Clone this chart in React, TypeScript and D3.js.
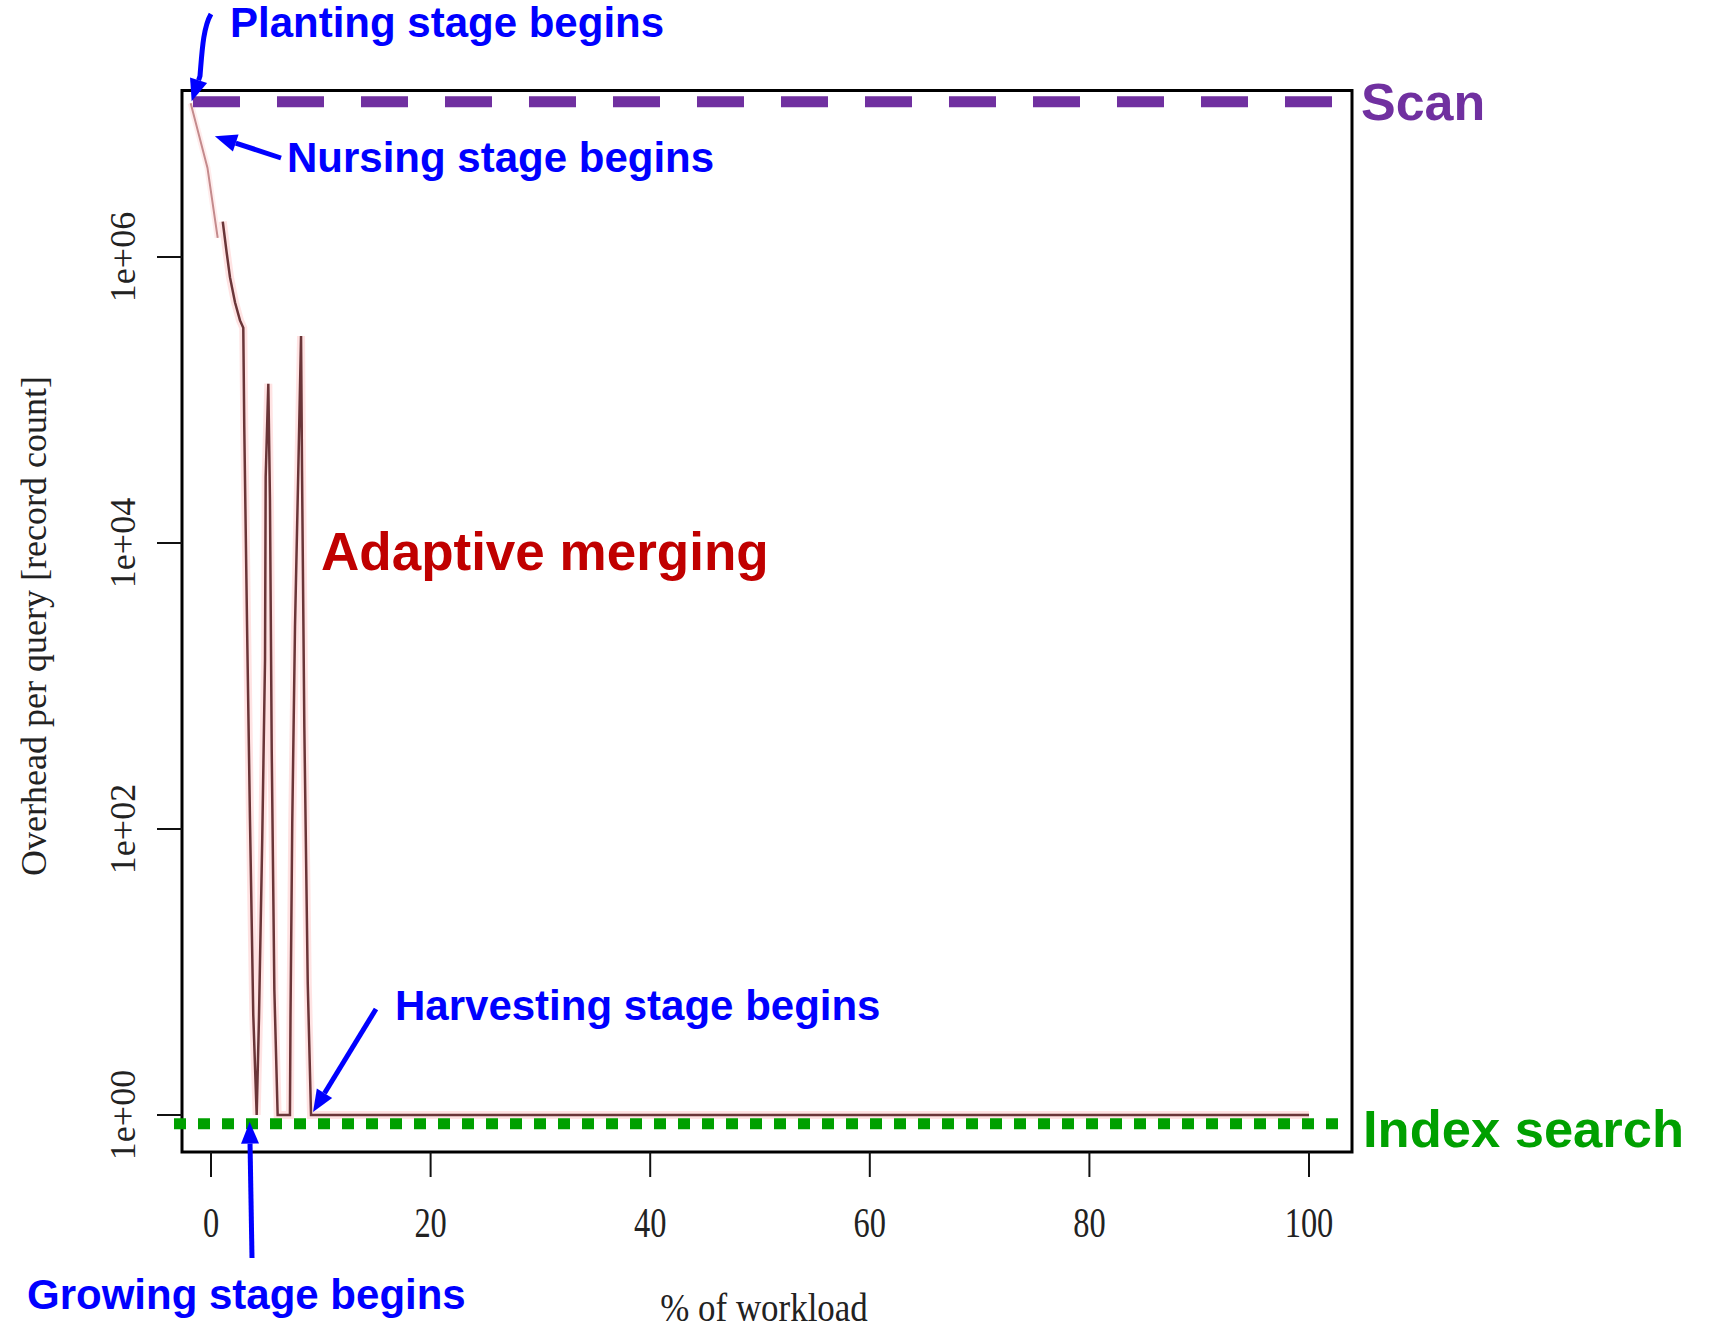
import React from "react";
import * as d3 from "d3";

// axis ticks
const xTicks = [0, 20, 40, 60, 80, 100];
const yTicks = [1, 1e2, 1e4, 1e6];
const yTickLabels = ["1e+00", "1e+02", "1e+04", "1e+06"];

// first queries (planting / nursing), drawn lighter
const plantPct = [-1.85, -0.32, 0.61];
const plantCount = [1.19e7, 4.2e6, 1.36e6];

// adaptive merging: overhead per query [record count]
const mergePct = [
  1.07, 1.43, 1.73, 2.19, 2.64, 2.94, 3.03, 3.28, 3.55, 3.85, 4.16, 4.37, 4.67, 4.92, 4.98, 5.22,
  5.37, 5.53, 5.77, 6.07, 7.19, 7.24, 7.4, 7.65, 7.95, 8.2, 8.29, 8.5, 8.81, 9.11, 100,
];
const mergeCount = [
  1.77e6, 1.07e6, 7.2e5, 4.8e5, 3.6e5, 3.2e5, 6.5e4, 2760, 116, 5, 1, 4.8, 88, 1520, 2.9e4, 1.3e5,
  2.0e4, 357, 7.5, 1, 1, 4.8, 110, 2590, 3.2e4, 2.8e5, 3.2e4, 517, 8.4, 1, 1,
];

// reference levels
const scanCount = 1.22e7;
const scanPct = [-1.64, 102.1];
const indexCount = 0.87;
const indexPct = [-3.37, 102.7];

const W = 1710;
const H = 1331;
const box = { left: 182, top: 90.5, right: 1352, bottom: 1152 };

const SERIF = "'Liberation Serif', 'Times New Roman', serif";
const SANS = "'Liberation Sans', Arial, sans-serif";
const BLUE = "#0000ff";

const head = (tx: number, ty: number, fx: number, fy: number, len = 22, half = 9) => {
  const dx = tx - fx;
  const dy = ty - fy;
  const d = Math.hypot(dx, dy);
  const ux = dx / d;
  const uy = dy / d;
  const bx = tx - ux * len;
  const by = ty - uy * len;
  return {
    base: [bx, by],
    pts: `${tx},${ty} ${bx - uy * half},${by + ux * half} ${bx + uy * half},${by - ux * half}`,
  };
};

const Arrow = ({ from, to }: { from: number[]; to: number[] }) => {
  const h = head(to[0], to[1], from[0], from[1]);
  return (
    <g>
      <line x1={from[0]} y1={from[1]} x2={h.base[0]} y2={h.base[1]} stroke={BLUE} strokeWidth={5} />
      <polygon points={h.pts} fill={BLUE} />
    </g>
  );
};

export default function App() {
  const x = d3.scaleLinear().domain([0, 100]).range([211, 1309]);
  const y = d3.scaleLog().domain([1, 1e6]).range([1115, 257]);

  const plantPath = d3
    .line<number>()
    .x((d) => x(d))
    .y((_, i) => y(plantCount[i]))(plantPct);
  const mergePath = d3
    .line<number>()
    .x((d) => x(d))
    .y((_, i) => y(mergeCount[i]))(mergePct);

  // arrow tips anchored on the data
  const plantTip = [x(plantPct[0]) + 1, y(plantCount[0]) - 2];
  const nurseTip = [x(0.35), y(7.0e6)];
  const growTip = [x(3.52), y(indexCount) - 2];
  const harvestTip = [x(mergePct[29]) + 2, y(1) - 3];

  const ph = head(plantTip[0], plantTip[1], 200, 76);

  return (
    <svg
      width={W}
      height={H}
      style={{ position: "absolute", left: 0, top: 0, background: "#fff" }}
    >
      {/* plot frame */}
      <rect
        x={box.left}
        y={box.top}
        width={box.right - box.left}
        height={box.bottom - box.top}
        fill="none"
        stroke="#000"
        strokeWidth={3}
      />

      {/* x axis */}
      {xTicks.map((t) => (
        <g key={t}>
          <line x1={x(t)} x2={x(t)} y1={box.bottom} y2={box.bottom + 25} stroke="#111" strokeWidth={2} />
          <text
            transform={`translate(${x(t)},1237) scale(0.9,1.15)`}
            textAnchor="middle"
            fontFamily={SERIF}
            fontSize={36}
            fill="#222"
          >
            {t}
          </text>
        </g>
      ))}
      <text
        transform="translate(764,1321) scale(0.97,1.1)"
        textAnchor="middle"
        fontFamily={SERIF}
        fontSize={36}
        fill="#222"
      >
        % of workload
      </text>

      {/* y axis */}
      {yTicks.map((t, i) => (
        <g key={t}>
          <line x1={box.left - 25} x2={box.left} y1={y(t)} y2={y(t)} stroke="#111" strokeWidth={2} />
          <text
            transform={`translate(135,${y(t)}) rotate(-90)`}
            textAnchor="middle"
            fontFamily={SERIF}
            fontSize={36}
            fill="#222"
          >
            {yTickLabels[i]}
          </text>
        </g>
      ))}
      <text
        transform="translate(46,626) rotate(-90)"
        textAnchor="middle"
        fontFamily={SERIF}
        fontSize={36}
        fill="#222"
      >
        Overhead per query [record count]
      </text>

      {/* data line with soft halo */}
      <path d={mergePath ?? ""} fill="none" stroke="#ffd0d0" strokeWidth={8} strokeOpacity={0.6} />
      <path d={plantPath ?? ""} fill="none" stroke="#ffe0e0" strokeWidth={6} strokeOpacity={0.6} />
      <path d={plantPath ?? ""} fill="none" stroke="#c48a8c" strokeWidth={2} />
      <path d={mergePath ?? ""} fill="none" stroke="#6a3538" strokeWidth={2.5} />

      {/* reference levels */}
      <line
        x1={x(scanPct[0])}
        x2={x(scanPct[1])}
        y1={y(scanCount)}
        y2={y(scanCount)}
        stroke="#7030a0"
        strokeWidth={11}
        strokeDasharray="47 37"
      />
      <line
        x1={x(indexPct[0])}
        x2={x(indexPct[1])}
        y1={y(indexCount)}
        y2={y(indexCount)}
        stroke="#00a000"
        strokeWidth={11}
        strokeDasharray="12 12"
      />

      {/* labels */}
      <text x={1361} y={120} fontFamily={SANS} fontWeight="bold" fontSize={52} fill="#7030a0">
        Scan
      </text>
      <text x={1363} y={1147} fontFamily={SANS} fontWeight="bold" fontSize={52.5} fill="#00a000">
        Index search
      </text>
      <text x={321} y={570} fontFamily={SANS} fontWeight="bold" fontSize={53} fill="#c00000">
        Adaptive merging
      </text>

      <g fontFamily={SANS} fontWeight="bold" fontSize={42} fill={BLUE}>
        <text x={230} y={37}>Planting stage begins</text>
        <text x={287} y={172}>Nursing stage begins</text>
        <text x={395} y={1020}>Harvesting stage begins</text>
        <text x={27} y={1309}>Growing stage begins</text>
      </g>

      {/* arrows */}
      <path
        d={`M211,14 C203,28 202,52 200,76 L${ph.base[0]},${ph.base[1]}`}
        fill="none"
        stroke={BLUE}
        strokeWidth={5}
      />
      <polygon points={ph.pts} fill={BLUE} />
      <Arrow from={[281, 158]} to={nurseTip} />
      <Arrow from={[376, 1009]} to={harvestTip} />
      <Arrow from={[252, 1258]} to={growTip} />
    </svg>
  );
}
